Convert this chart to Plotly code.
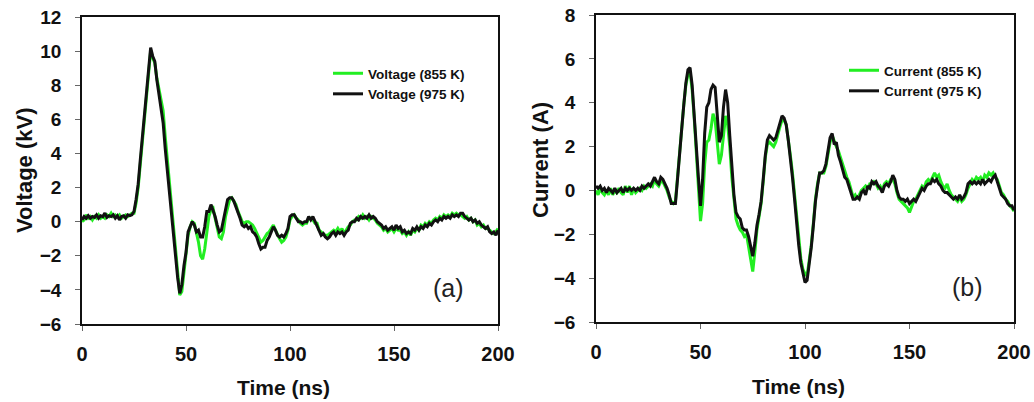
import plotly.graph_objects as go

# ---------------- data ----------------
TIME_NS = list(range(0, 201))  # 1 ns sampling grid, 0..200 ns

VOLTAGE_855K = [
    0.0, 0.1, 0.4, 0.2, 0.3, 0.1, 0.3, 0.2, 0.4, 0.2,
    0.3, 0.2, 0.4, 0.3, 0.5, 0.3, 0.4, 0.3, 0.4, 0.2,
    0.3, 0.4, 0.3, 0.4, 0.5, 0.5, 1.1, 2.0, 3.4, 4.8,
    6.3, 7.7, 9.0, 10.0, 9.6, 9.3, 8.4, 7.7, 7.1, 6.5,
    5.0, 3.6, 2.2, 0.9, -0.5, -1.8, -3.1, -4.3, -4.1, -2.9,
    -1.9, -0.8, -0.3, 0.0, -0.1, -0.6, -1.2, -2.0, -2.2, -1.6,
    -0.6, 0.3, 0.7, 0.8, 0.2, -0.4, -0.9, -1.0, -0.6, 0.3,
    0.9, 1.3, 1.4, 1.2, 1.0, 0.6, 0.3, 0.0, -0.1, 0.0,
    0.0, -0.1, -0.2, -0.4, -0.7, -1.0, -1.2, -1.1, -0.9, -0.7,
    -0.6, -0.4, -0.2, -0.5, -0.8, -1.0, -1.2, -1.1, -0.9, -0.5,
    0.1, 0.3, 0.4, 0.2, 0.1, -0.1, -0.2, -0.1, -0.1, 0.2,
    0.2, 0.1, -0.1, -0.1, -0.5, -0.6, -0.7, -0.8, -0.8, -0.7,
    -0.6, -0.5, -0.6, -0.4, -0.6, -0.4, -0.7, -0.5, -0.3, -0.2,
    0.0, 0.1, 0.1, 0.3, 0.2, 0.4, 0.2, 0.3, 0.1, 0.3,
    0.2, 0.1, -0.1, -0.2, -0.3, -0.5, -0.4, -0.6, -0.5, -0.4,
    -0.6, -0.4, -0.5, -0.5, -0.7, -0.6, -0.8, -0.6, -0.8, -0.5,
    -0.6, -0.4, -0.5, -0.2, -0.3, -0.1, -0.2, 0.0, -0.1, 0.1,
    0.2, 0.1, 0.3, 0.2, 0.4, 0.3, 0.4, 0.3, 0.5, 0.4,
    0.5, 0.4, 0.4, 0.3, 0.2, 0.3, 0.1, 0.2, 0.0, 0.1,
    -0.2, -0.1, -0.3, -0.2, -0.4, -0.4, -0.5, -0.6, -0.7, -0.6,
    -0.4,
]

VOLTAGE_975K = [
    0.1, 0.3, 0.2, 0.35, 0.2, 0.3, 0.25, 0.4, 0.2, 0.35,
    0.3, 0.5, 0.25, 0.35, 0.3, 0.4, 0.2, 0.35, 0.1, 0.3,
    0.35, 0.2, 0.4, 0.35, 0.4, 0.6, 1.3, 2.2, 3.6, 5.0,
    6.5, 7.9, 9.2, 10.2, 9.7, 9.4, 8.3, 7.5, 6.8, 5.8,
    4.3, 3.0, 1.8, 0.5, -0.8, -2.0, -3.3, -4.2, -3.7, -2.6,
    -1.8, -0.6, -0.3, 0.0, -0.2, -0.6, -0.5, -0.9, -0.9, -0.3,
    0.6, 0.6, 1.0, 0.7, 0.3, -0.2, -0.6, -0.5, 0.1, 0.8,
    1.3, 1.4, 1.4, 1.2, 0.9, 0.5, 0.2, -0.2, -0.3, -0.2,
    -0.4, -0.3, -0.6, -0.7, -0.9, -1.3, -1.6, -1.5, -1.5, -1.1,
    -0.9, -0.6, -0.3, -0.5, -0.8, -0.9, -0.8, -0.9, -0.7, -0.4,
    0.3, 0.4, 0.4, 0.2, 0.0, 0.0, -0.1, 0.0, 0.0, 0.3,
    0.1, 0.3, 0.0, -0.2, -0.6, -0.8, -0.7, -0.9, -1.0, -0.9,
    -0.7, -0.6, -0.8, -0.6, -0.7, -0.6, -0.8, -0.6, -0.5, -0.1,
    0.0, 0.0, 0.2, 0.1, 0.3, 0.2, 0.3, 0.2, 0.4, 0.2,
    0.3, 0.2, 0.0, -0.1, -0.2, -0.4, -0.3, -0.5, -0.4, -0.3,
    -0.5, -0.2, -0.4, -0.3, -0.6, -0.5, -0.7, -0.6, -0.7, -0.4,
    -0.5, -0.3, -0.5, -0.3, -0.4, -0.2, -0.3, -0.1, -0.2, 0.0,
    0.1, 0.0, 0.2, 0.1, 0.3, 0.2, 0.3, 0.2, 0.4, 0.3,
    0.4, 0.3, 0.5, 0.5, 0.3, 0.2, 0.1, 0.2, 0.0, 0.1,
    -0.1, 0.0, -0.2, -0.3, -0.4, -0.3, -0.6, -0.7, -0.6, -0.8,
    -0.5,
]

CURRENT_855K = [
    0.0, -0.2, 0.1, -0.1, -0.2, 0.0, -0.2, 0.1, -0.2, 0.0,
    -0.1, 0.1, -0.1, -0.2, 0.2, -0.1, 0.2, -0.2, 0.1, -0.1,
    0.0, 0.1, 0.0, 0.2, 0.1, 0.2, 0.3, 0.2, 0.5, 0.3,
    0.2, 0.4, 0.4, 0.2, 0.0, -0.3, -0.5, -0.6, -0.5, 0.6,
    1.8, 2.9, 3.9, 4.8, 5.3, 5.4, 4.6, 3.3, 1.7, 0.2,
    -1.4, -0.6, 1.2, 2.2, 2.3, 2.8, 3.5, 3.2, 2.2, 1.2,
    1.6, 2.6, 3.4, 3.0, 2.0, 0.6, -0.5, -1.3, -1.6, -1.8,
    -1.9, -2.1, -2.0, -2.6, -3.2, -3.7, -2.8, -1.8, -1.2, -0.6,
    0.4, 1.5, 2.1, 2.2, 2.1, 2.0, 2.2, 2.6, 2.9, 3.2,
    3.2, 3.0, 2.4, 1.6, 0.8, -0.2, -1.3, -2.3, -3.1, -3.6,
    -3.8, -3.9, -3.3, -2.5, -1.5, -0.4, 0.3, 0.8, 0.8, 0.8,
    1.1, 1.6, 2.2, 2.5, 2.2, 2.0, 1.8, 1.5, 1.1, 0.9,
    0.6, 0.4, 0.1, -0.3, -0.2, -0.4, -0.2, 0.0, 0.1, 0.2,
    0.1, 0.3, 0.3, 0.4, 0.3, 0.1, 0.2, 0.0, 0.3, 0.4,
    0.3, 0.5, 0.5, 0.3, -0.1, -0.4, -0.5, -0.6, -0.7, -0.8,
    -1.0, -0.7, -0.5, -0.4, -0.2, 0.0, 0.2, 0.1, 0.4, 0.5,
    0.4, 0.6, 0.8, 0.6, 0.7, 0.4, 0.2, 0.1, 0.3, 0.0,
    -0.2, -0.3, -0.4, -0.5, -0.3, -0.5, -0.4, -0.2, 0.1, 0.3,
    0.5, 0.4, 0.6, 0.5, 0.6, 0.4, 0.7, 0.6, 0.8, 0.7,
    0.8, 0.6, 0.5, 0.2, -0.1, -0.2, -0.4, -0.5, -0.7, -0.8,
    -0.95,
]

CURRENT_975K = [
    0.2, 0.1, 0.2, 0.0, 0.1, -0.1, 0.1, 0.0, -0.1, 0.1,
    -0.1, 0.0, 0.1, -0.1, 0.1, 0.0, 0.1, 0.0, 0.1, 0.0,
    0.1, 0.0, 0.2, 0.1, 0.2, 0.3, 0.2, 0.4, 0.6, 0.4,
    0.3, 0.6, 0.5, 0.3, 0.1, -0.2, -0.6, -0.6, -0.6, 0.5,
    1.8, 2.8, 3.9, 4.9, 5.5, 5.6, 4.8, 3.6, 2.0, 0.6,
    -0.7, 0.5, 2.6, 3.8, 4.0, 4.6, 4.8, 4.7, 3.6, 2.2,
    2.5, 3.8, 4.6, 4.0, 2.5, 1.0, -0.2, -1.0, -1.2, -1.3,
    -1.7, -1.8, -1.8, -2.1, -2.6, -3.0, -2.4, -1.6, -1.1, -0.5,
    0.5, 1.6, 2.3, 2.5, 2.4, 2.3, 2.4, 2.7, 3.1, 3.4,
    3.3, 3.0, 2.3, 1.5, 0.6, -0.4, -1.5, -2.5, -3.3, -3.8,
    -4.2, -4.1, -3.4, -2.6, -1.6, -0.5, 0.2, 0.8, 0.8, 0.9,
    1.2, 1.8, 2.4, 2.6, 2.1, 2.2, 1.6, 1.3, 1.0, 0.6,
    0.5, 0.2, 0.0, -0.4, -0.4, -0.3, -0.4, -0.1, 0.0, -0.2,
    0.2, 0.1, 0.4, 0.3, 0.4, 0.2, 0.1, -0.1, 0.2, 0.3,
    0.2, 0.4, 0.7, 0.5, 0.0, -0.3, -0.4, -0.4, -0.5, -0.4,
    -0.6, -0.5, -0.4, -0.5, -0.3, -0.1, 0.1, 0.0, 0.2, 0.3,
    0.3, 0.5, 0.4, 0.5, 0.3, 0.2, 0.0, -0.1, -0.1, -0.2,
    -0.3, -0.4, -0.3, -0.4, -0.2, -0.4, -0.3, -0.1, 0.3, 0.4,
    0.3, 0.4, 0.3, 0.4, 0.3, 0.5, 0.3, 0.4, 0.5, 0.4,
    0.6, 0.7, 0.4, 0.1, -0.2, -0.3, -0.4, -0.6, -0.7, -0.7,
    -0.9,
]

X_TICKS = [0, 50, 100, 150, 200]
V_TICKS = [12, 10, 8, 6, 4, 2, 0, -2, -4, -6]
I_TICKS = [8, 6, 4, 2, 0, -2, -4, -6]

GREEN = "#22ee22"
BLACK = "#111111"
FONT = "Liberation Sans, Arial, sans-serif"

fig = go.Figure()

fig.add_trace(go.Scatter(x=TIME_NS, y=VOLTAGE_855K, mode="lines", name="Voltage (855 K)",
                         line=dict(color=GREEN, width=3), xaxis="x", yaxis="y", legend="legend"))
fig.add_trace(go.Scatter(x=TIME_NS, y=VOLTAGE_975K, mode="lines", name="Voltage (975 K)",
                         line=dict(color=BLACK, width=3), xaxis="x", yaxis="y", legend="legend"))
fig.add_trace(go.Scatter(x=TIME_NS, y=CURRENT_855K, mode="lines", name="Current (855 K)",
                         line=dict(color=GREEN, width=3), xaxis="x2", yaxis="y2", legend="legend2"))
fig.add_trace(go.Scatter(x=TIME_NS, y=CURRENT_975K, mode="lines", name="Current (975 K)",
                         line=dict(color=BLACK, width=3), xaxis="x2", yaxis="y2", legend="legend2"))

W, H = 1034, 402


def px_x(p):
    return p / W


def px_y(p):
    return 1 - p / H


axis_common = dict(
    showgrid=False, zeroline=False, showline=True, linecolor="#111111", linewidth=1.5,
    mirror=True, ticks="outside", ticklen=5, tickwidth=1, tickcolor="#666666",
    automargin=False, ticklabeloverflow="allow",
)

fig.update_layout(
    width=W, height=H,
    margin=dict(l=0, r=0, t=0, b=0, autoexpand=False),
    paper_bgcolor="white", plot_bgcolor="white",
    font=dict(family=FONT, color="#111111"),
    xaxis=dict(domain=[px_x(82), px_x(498)], range=[0, 200], tickvals=X_TICKS,
               tickfont=dict(size=20, weight="bold"), ticklabelstandoff=6,
               anchor="y", **axis_common),
    yaxis=dict(domain=[px_y(324), px_y(17)], range=[-6, 12], tickvals=V_TICKS,
               tickfont=dict(size=19, weight="bold"), ticklabelstandoff=10,
               anchor="x", **axis_common),
    xaxis2=dict(domain=[px_x(596), px_x(1014)], range=[0, 200], tickvals=X_TICKS,
                tickfont=dict(size=20, weight="bold"), ticklabelstandoff=6,
                anchor="y2", **axis_common),
    yaxis2=dict(domain=[px_y(322), px_y(15)], range=[-6, 8], tickvals=I_TICKS,
                tickfont=dict(size=19, weight="bold"), ticklabelstandoff=10,
                anchor="x2", **axis_common),
    legend=dict(x=px_x(328), y=px_y(58), xanchor="left", yanchor="top",
                bgcolor="rgba(0,0,0,0)", font=dict(size=13.5, weight="bold"),
                itemwidth=30, tracegroupgap=0),
    legend2=dict(x=px_x(844), y=px_y(55), xanchor="left", yanchor="top",
                 bgcolor="rgba(0,0,0,0)", font=dict(size=13.5, weight="bold"),
                 itemwidth=30, tracegroupgap=0),
    showlegend=True,
    annotations=[
        dict(text="Voltage (kV)", x=px_x(25), y=px_y(170), xref="paper", yref="paper",
             showarrow=False, textangle=-90, font=dict(size=22, weight="bold"),
             xanchor="center", yanchor="middle"),
        dict(text="Time (ns)", x=px_x(283), y=px_y(387), xref="paper", yref="paper",
             showarrow=False, font=dict(size=21, weight="bold"),
             xanchor="center", yanchor="middle"),
        dict(text="Current (A)", x=px_x(540), y=px_y(160), xref="paper", yref="paper",
             showarrow=False, textangle=-90, font=dict(size=22, weight="bold"),
             xanchor="center", yanchor="middle"),
        dict(text="Time (ns)", x=px_x(798), y=px_y(386), xref="paper", yref="paper",
             showarrow=False, font=dict(size=21, weight="bold"),
             xanchor="center", yanchor="middle"),
        dict(text="(a)", x=px_x(448), y=px_y(288), xref="paper", yref="paper",
             showarrow=False, font=dict(size=25, color="#222222"),
             xanchor="center", yanchor="middle"),
        dict(text="(b)", x=px_x(967), y=px_y(287), xref="paper", yref="paper",
             showarrow=False, font=dict(size=25, color="#222222"),
             xanchor="center", yanchor="middle"),
    ],
)

# remove the default 8 px page margin so the figure fills the 1034x402 window exactly
fig.write_html(
    "out.html",
    config={"displayModeBar": False},
    post_script="document.body.style.margin='0';document.body.style.overflow='hidden';",
)
